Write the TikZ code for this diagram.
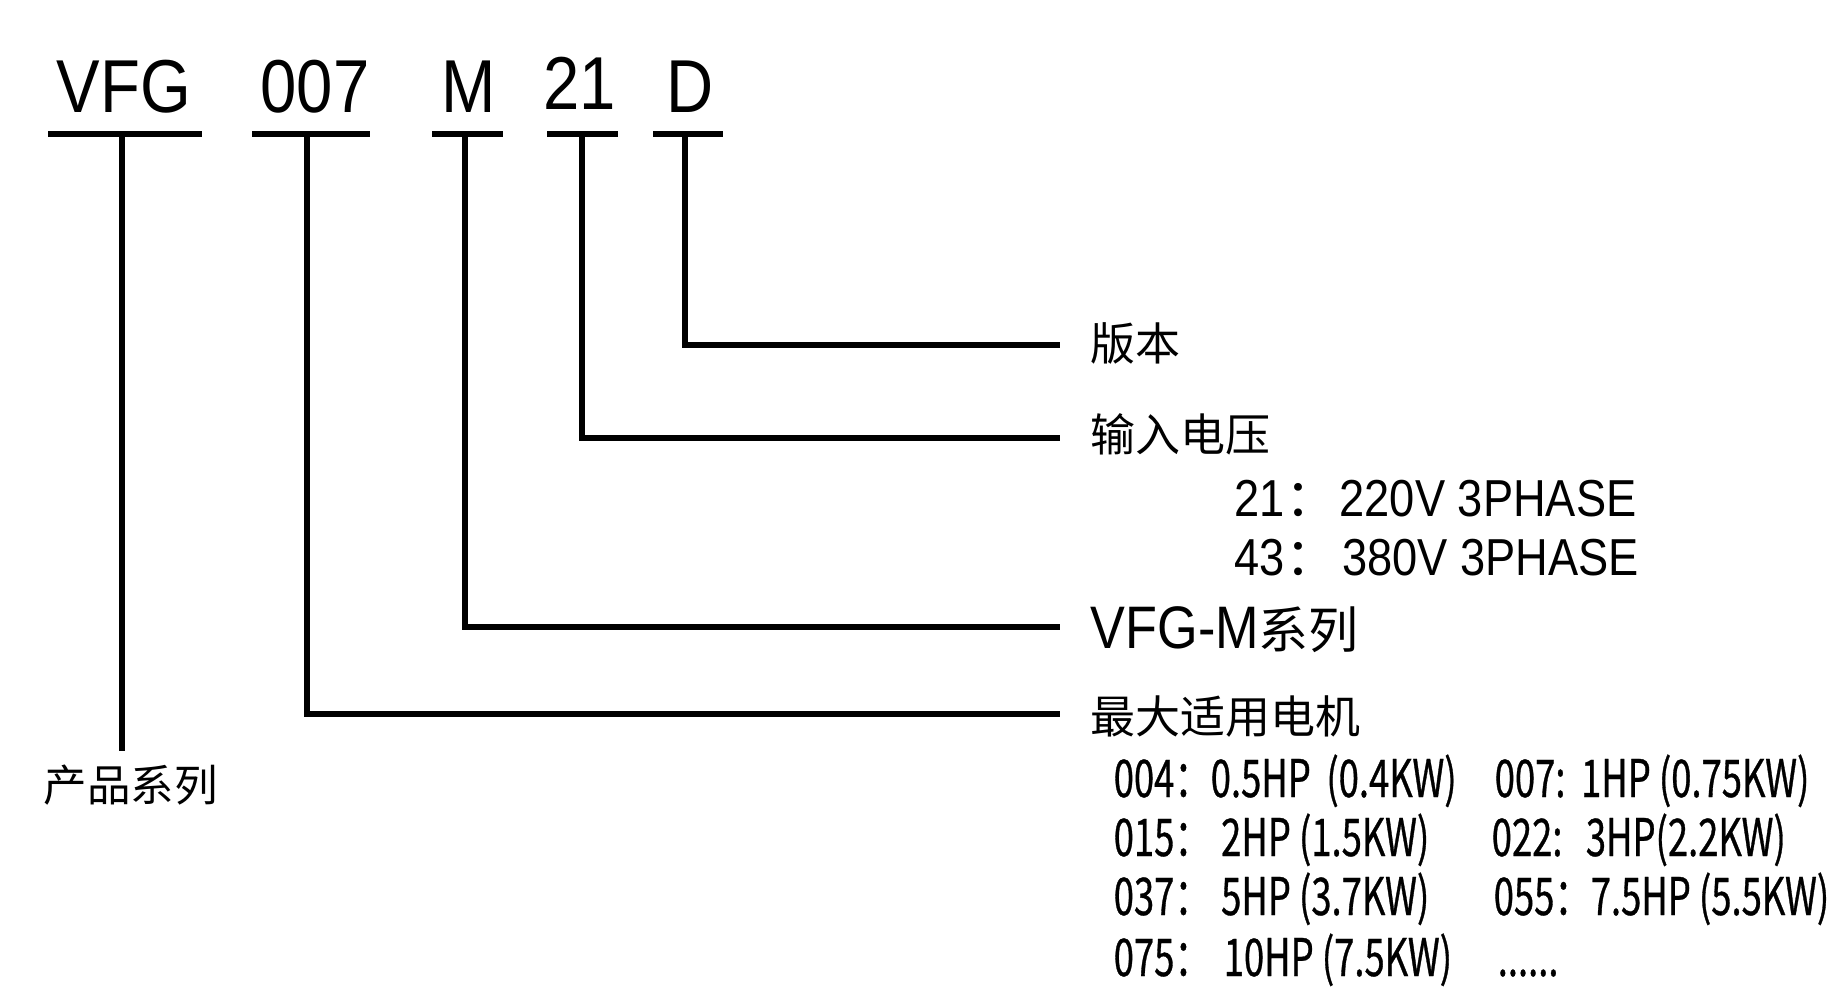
\documentclass[tikz,border=0pt]{standalone}
\usepackage{fontspec}
\newfontfamily\arialn{Liberation Sans}[FakeStretch=0.87]
\newfontfamily\cjk{Noto Sans CJK SC}
\newfontfamily\tabf{Noto Sans CJK SC}[FakeStretch=0.7,FakeBold=0.6]
\begin{document}
\begin{tikzpicture}[x=1pt,y=-1pt,line width=5.5pt,
  code/.style={font=\arialn\fontsize{75}{75}\selectfont,inner sep=0pt,anchor=base},
  lab/.style={font=\cjk\fontsize{45}{45}\selectfont,inner sep=0pt,anchor=base west},
  volt/.style={font=\arialn\fontsize{52}{52}\selectfont,inner sep=0pt,anchor=base west},
  series/.style={font=\arialn\fontsize{60}{60}\selectfont,inner sep=0pt,anchor=base west},
  tab/.style={font=\tabf\fontsize{52}{52}\selectfont,inner sep=0pt,anchor=base west}]
\useasboundingbox (0,0) rectangle (1843,989);
% code letters
\node[code] (cV) at (124,112) {VFG};
\node[code] (cN) at (315,112) {007};
\node[code] (cM) at (469,112) {M};
\node[code] (cT) at (580,109) {21};
\node[code] (cD) at (690,112) {D};
% underlines
\draw (48,134) -- (202,134);
\draw (252,134) -- (370,134);
\draw (432,134) -- (503,134);
\draw (547,134) -- (618,134);
\draw (653,134) -- (723,134);
% underline mid-points and line ends
\coordinate (mV) at (122,134);
\coordinate (mN) at (307,134);
\coordinate (mM) at (465,134);
\coordinate (mT) at (582,134);
\coordinate (mD) at (685,134);
\coordinate (eV) at (122,751);
\coordinate (eN) at (1060,714);
\coordinate (eM) at (1060,627);
\coordinate (eT) at (1060,438);
\coordinate (eD) at (1060,345);
\draw (mV) -- (eV);
\draw (mN) |- (eN);
\draw (mM) |- (eM);
\draw (mT) |- (eT);
\draw (mD) |- (eD);
% labels
\node[lab,font=\cjk\fontsize{43.5}{43.5}\selectfont] (lV) at (41,801) {产品系列};
\node[lab] (lD) at (1088,360) {版本};
\node[lab] (lT) at (1088,451) {输入电压};
\node[volt] (v21) at (1232,516) {21{\cjk ：}\hspace{0.05em}220V 3PHASE};
\node[volt] (v43) at (1232,575) {43{\cjk ：}\hspace{0.1em}380V 3PHASE};
\node[series] (lM) at (1088,648) {VFG-M{\cjk\fontsize{50}{50}\selectfont 系列}};
\node[lab] (lN) at (1088,733) {最大适用电机};
% table
\node[tab] (t1a) at (1111,797) {004：0.5HP\hspace{0.3em}(0.4KW)};
\node[tab] (t1b) at (1492,797) {007:\hspace{0.3em}1HP (0.75KW)};
\node[tab] (t2a) at (1111,856) {015：\hspace{0.2em}2HP (1.5KW)};
\node[tab] (t2b) at (1489,856) {022:\hspace{0.45em}3HP(2.2KW)};
\node[tab] (t3a) at (1111,915) {037：\hspace{0.2em}5HP (3.7KW)};
\node[tab] (t3b) at (1491,915) {055：7.5HP (5.5KW)};
\node[tab] (t4a) at (1111,976) {075：\hspace{0.25em}10HP (7.5KW)};
\node[tab] (t4b) at (1495,976) {......};
\end{tikzpicture}
\end{document}
